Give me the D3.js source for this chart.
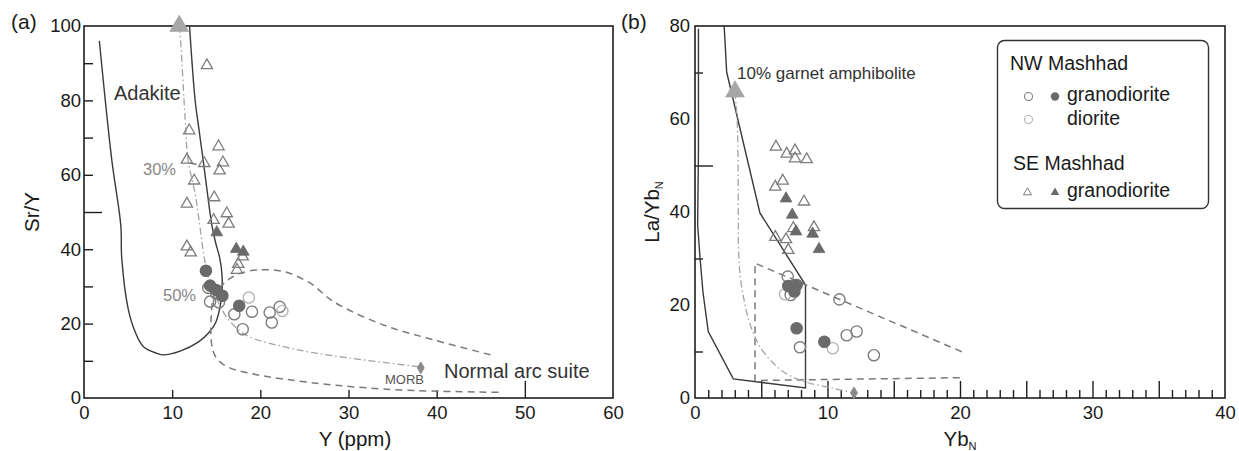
<!DOCTYPE html>
<html>
<head>
<meta charset="utf-8">
<script src="https://cdn.jsdelivr.net/npm/d3@7"></script>
<style>
  html, body { margin: 0; padding: 0; background: #fff; }
  svg { display: block; font-family: "Liberation Sans", Arial, sans-serif; }
</style>
</head>
<body>
<svg id="chart" width="1239" height="451"></svg>
<script>
// ---------- Panel (a): Sr/Y vs Y (ppm) ----------
const adakiteFieldA = [[1.74,96],[3.15,64],[4.17,46.5],[4.28,37.6],[5.0,24.1],[5.8,17.8],[6.74,13.8],[8.26,12.0],[9.0,11.6],[10.9,12.6],[13.0,15.1],[14.1,17.4],[14.9,20.1],[15.4,24.1],[15.65,28.6],[15.65,33.1],[15.4,37.6],[14.9,42.0],[14.5,46.5],[14.3,49.6],[13.56,63.1],[13.0,72.9],[12.6,80.1],[11.97,100]];
const arcFieldA = [[46.1,11.6],[39.7,15.6],[34.0,19.6],[28.3,25.9],[25.7,30.8],[22.65,34.0],[19.6,34.4],[17.7,33.5],[16.6,32.2],[15.45,29.8],[14.7,27.2],[14.43,21.9],[14.4,16.9],[14.6,12.9],[15.1,10.5],[16.25,8.4],[18.9,6.6],[22.65,5.1],[28.3,3.5],[35.9,2.15],[47.6,1.5]];
const meltCurveA = [[10.8,100],[10.9,98.0],[11.48,74.7],[11.8,64.0],[12.6,55.0],[13.0,48.7],[13.4,41.6],[13.75,36.2],[14.3,30.8],[15.0,26.9],[16.1,22.0],[17.7,18.0],[19.2,16.0],[22.65,13.8],[25.7,12.3],[30.2,10.7],[38.0,8.4]];
const meltMarksA = [[12.3,63.1,"30%"],[14.7,30.0,"50%"]];
const sourceA = [[10.8,100]];
const morbA = [[38.2,8.1]];
const seOpenA = [[13.94,89.4],[11.93,71.9],[15.26,67.6],[11.67,64.0],[13.64,63.1],[15.76,63.3],[15.38,61.1],[12.5,58.4],[14.77,53.9],[11.67,52.2],[16.2,49.6],[14.7,47.8],[16.4,46.8],[11.67,40.7],[12.1,39.1],[18.0,38.0],[17.5,36.0],[17.35,34.4]];
const seFillA = [[15.06,44.5],[17.27,40.05],[18.07,39.3]];
const nwGranoOpenA = [[14.1,29.6],[14.3,25.9],[15.3,25.7],[15.0,28.1],[17.05,22.5],[19.05,23.2],[21.06,23.0],[21.3,20.3],[22.2,24.5],[18.0,18.5]];
const nwGranoFillA = [[13.83,34.2],[14.3,30.2],[15.0,29.0],[15.7,27.5],[17.6,24.8]];
const nwDioriteA = [[18.7,27.0],[22.5,23.4]];

// ---------- Panel (b): La/YbN vs YbN ----------
const adakiteFieldB = [[0.26,79.4],[0.26,53.3],[0.2,37.2],[0.38,30.1],[0.6,22.8],[1.0,14.3],[2.89,4.1],[8.34,2.15],[8.34,24.3],[4.9,39.8],[2.39,70.1],[2.2,80]];
const arcFieldB = [[20.13,9.96],[4.53,29.0],[4.53,3.76],[20.13,4.37]];
const meltCurveB = [[3.02,65.8],[3.19,59.1],[3.27,39.4],[3.28,32.9],[3.4,26.5],[3.7,21.1],[4.02,17.1],[4.5,13.3],[5.15,9.96],[6.66,5.66],[8.3,3.5],[10.44,2.1],[12.0,1.1]];
const sourceB = [[3.02,65.9]];
const morbB = [[12.0,1.1]];
const seOpenB = [[6.11,54.0],[6.92,52.5],[7.55,53.2],[7.55,51.5],[8.43,51.3],[6.62,46.7],[6.06,45.4],[8.23,42.2],[7.42,36.5],[8.98,36.7],[6.06,34.6],[6.87,34.1],[7.04,31.8]];
const seFillB = [[6.87,42.9],[7.34,39.4],[7.62,35.8],[8.88,35.3],[9.36,32.0]];
const nwGranoOpenB = [[7.0,26.1],[7.22,22.15],[10.9,21.2],[7.92,10.9],[11.45,13.5],[12.2,14.3],[13.5,9.2]];
const nwGranoFillB = [[7.04,24.1],[7.67,24.3],[7.5,22.9],[7.67,15.0],[9.76,12.1]];
const nwDioriteB = [[6.8,22.3],[10.4,10.7]];

// ---------- tick values ----------
const xLabelsA = [0,10,20,30,40,50,60];
const yLabelsA = [0,20,40,60,80,100];
const xLabelsB = [0,10,20,30,40];
const yLabelsB = [0,20,40,60,80];

const legendGroups = ["NW Mashhad","SE Mashhad"];
const legendRows = ["granodiorite","diorite","granodiorite"];

// ---------- styles ----------
const C = {
  frame: "#1e1e1e",
  solid: "#3a3a3a",
  dashed: "#7a7a7a",
  dashdot: "#a3a3a3",
  openMark: "#7d7d7d",
  fillMark: "#6a6a6a",
  light: "#b5b5b5",
  source: "#a6a6a6",
  morb: "#8a8a8a",
  text: "#1a1a1a",
  grayText: "#888"
};
const TICK_FONT = 18.5;
const TITLE_FONT = 20.5;

const svg = d3.select("#chart");

function panel(cfg) {
  const x = d3.scaleLinear().domain(cfg.xd).range(cfg.xr);
  const y = d3.scaleLinear().domain(cfg.yd).range([398, 26]);
  const g = svg.append("g");

  // plot frame
  g.append("rect")
    .attr("x", cfg.xr[0]).attr("y", 26)
    .attr("width", cfg.xr[1] - cfg.xr[0]).attr("height", 372)
    .attr("fill", "none").attr("stroke", C.frame).attr("stroke-width", 1.6);

  // bottom axis: labels, then tick groups of different lengths pointing inward
  const xLab = g.append("g").attr("transform", `translate(0,398)`)
    .call(d3.axisBottom(x).tickValues(cfg.xLabels).tickSize(0).tickPadding(8).tickFormat(d3.format("d")));
  xLab.select(".domain").remove();
  xLab.selectAll("text").attr("font-size", TICK_FONT).attr("fill", C.text).attr("font-family", "Liberation Sans, Arial, sans-serif");
  cfg.xTicks.forEach(([vals, len]) => {
    const a = g.append("g").attr("transform", `translate(0,398)`)
      .call(d3.axisBottom(x).tickValues(vals).tickSize(-len).tickFormat(""));
    a.select(".domain").remove();
    a.selectAll("line").attr("stroke", C.frame).attr("stroke-width", 1.4);
  });

  const yLab = g.append("g").attr("transform", `translate(${cfg.xr[0]},0)`)
    .call(d3.axisLeft(y).tickValues(cfg.yLabels).tickSize(0).tickPadding(cfg.yPad).tickFormat(d3.format("d")));
  yLab.select(".domain").remove();
  yLab.selectAll("text").attr("font-size", TICK_FONT).attr("fill", C.text).attr("font-family", "Liberation Sans, Arial, sans-serif");
  cfg.yTicks.forEach(([vals, len]) => {
    const a = g.append("g").attr("transform", `translate(${cfg.xr[0]},0)`)
      .call(d3.axisLeft(y).tickValues(vals).tickSize(-len).tickFormat(""));
    a.select(".domain").remove();
    a.selectAll("line").attr("stroke", C.frame).attr("stroke-width", 1.4);
  });

  return { x, y, g };
}

function drawLine(p, pts, style, curve) {
  const line = d3.line().x(d => p.x(d[0])).y(d => p.y(d[1])).curve(curve);
  p.g.append("path").attr("d", line(pts)).attr("fill", "none")
    .attr("stroke", style.stroke).attr("stroke-width", style.width)
    .attr("stroke-dasharray", style.dash || null);
}

const tri = s => d3.symbol().type(d3.symbolTriangle).size(s)();
const dia = s => d3.symbol().type(d3.symbolDiamond).size(s)();

function triangles(p, pts, filled, size, color) {
  p.g.selectAll(null).data(pts).join("path")
    .attr("d", tri(size))
    .attr("transform", d => `translate(${p.x(d[0])},${p.y(d[1])})`)
    .attr("fill", filled ? color : "none")
    .attr("stroke", color).attr("stroke-width", filled ? 0.8 : 1.3);
}

function circles(p, pts, filled, color) {
  p.g.selectAll(null).data(pts).join("circle")
    .attr("cx", d => p.x(d[0])).attr("cy", d => p.y(d[1])).attr("r", 5.6)
    .attr("fill", filled ? color : "none")
    .attr("stroke", color).attr("stroke-width", 1.4);
}

function diamonds(p, pts) {
  p.g.selectAll(null).data(pts).join("path")
    .attr("d", dia(40))
    .attr("transform", d => `translate(${p.x(d[0])},${p.y(d[1])})`)
    .attr("fill", C.morb).attr("stroke", C.morb);
}

function txt(p, px, py, s, size, color, anchor) {
  return p.g.append("text").attr("x", px).attr("y", py).attr("font-size", size)
    .attr("fill", color).attr("text-anchor", anchor || "start").text(s);
}

// ===== Panel (a) =====
const range = (a, b, s) => d3.range(a, b + 1e-9, s);
const A = panel({
  xd: [0, 60], xr: [84, 613], yd: [0, 100], yPad: 3,
  xLabels: xLabelsA, yLabels: yLabelsA,
  xTicks: [[[10, 20, 30, 40], 8], [[50], 17]],
  yTicks: [[[10, 20, 30, 40, 60, 70, 80, 90], 9], [[50], 18]]
});

drawLine(A, adakiteFieldA, { stroke: C.solid, width: 1.4 }, d3.curveCatmullRom);
drawLine(A, arcFieldA, { stroke: C.dashed, width: 1.5, dash: "7,5" }, d3.curveCatmullRom);
drawLine(A, meltCurveA, { stroke: C.dashdot, width: 1.3, dash: "7,3,1.5,3" }, d3.curveCatmullRom);

// melting-degree markers on the dash-dot curve
A.g.selectAll(null).data(meltMarksA).join("line")
  .attr("x1", d => A.x(d[0]) - 3).attr("x2", d => A.x(d[0]) + 4)
  .attr("y1", d => A.y(d[1])).attr("y2", d => A.y(d[1]) + 1)
  .attr("stroke", "#333").attr("stroke-width", 1.2);

triangles(A, seOpenA, false, 55, C.openMark);
triangles(A, seFillA, true, 60, C.fillMark);
circles(A, nwGranoOpenA, false, C.openMark);
circles(A, nwDioriteA, false, C.light);
circles(A, nwGranoFillA, true, C.fillMark);
triangles(A, sourceA, true, 150, C.source);
diamonds(A, morbA);

txt(A, 11, 29, "(a)", 21, C.text);
txt(A, 114, 100, "Adakite", 20, "#333");
txt(A, 143, 175, meltMarksA[0][2], 16.5, C.grayText);
txt(A, 163, 301, meltMarksA[1][2], 16.5, C.grayText);
txt(A, 385, 384, "MORB", 13, "#555");
txt(A, 444, 378, "Normal arc suite", 20, "#333");
txt(A, 355, 446, "Y (ppm)", TITLE_FONT, C.text, "middle");
A.g.append("text").attr("transform", "translate(39,212) rotate(-90)")
  .attr("text-anchor", "middle").attr("font-size", TITLE_FONT).attr("fill", C.text).text("Sr/Y");

// ===== Panel (b) =====
const minorB = range(1, 39, 1).filter(v => v % 5 !== 0);
const B = panel({
  xd: [0, 40], xr: [695, 1225], yd: [0, 80], yPad: 5,
  xLabels: xLabelsB, yLabels: yLabelsB,
  xTicks: [[minorB, 8], [[5, 10, 15, 20, 25, 30, 35], 17]],
  yTicks: [[[10, 30, 70], 8], [[50], 18]]
});

drawLine(B, adakiteFieldB, { stroke: C.solid, width: 1.4 }, d3.curveLinear);
drawLine(B, arcFieldB, { stroke: C.dashed, width: 1.5, dash: "7,5" }, d3.curveLinear);
drawLine(B, meltCurveB, { stroke: C.dashdot, width: 1.3, dash: "7,3,1.5,3" }, d3.curveCatmullRom);

triangles(B, seOpenB, false, 55, C.openMark);
triangles(B, seFillB, true, 60, C.fillMark);
circles(B, nwGranoOpenB, false, C.openMark);
circles(B, nwDioriteB, false, C.light);
circles(B, nwGranoFillB, true, C.fillMark);
triangles(B, sourceB, true, 150, C.source);
diamonds(B, morbB);

txt(B, 621, 29, "(b)", 21, C.text);
txt(B, 737, 79, "10% garnet amphibolite", 17, "#333");

// x title with subscript
const xt = txt(B, 960, 446, "", TITLE_FONT, C.text, "middle");
xt.append("tspan").text("Yb");
xt.append("tspan").attr("font-size", 11).attr("dy", 4).text("N");

const yt = B.g.append("text").attr("transform", "translate(659,212) rotate(-90)")
  .attr("text-anchor", "middle").attr("font-size", TITLE_FONT).attr("fill", C.text);
yt.append("tspan").text("La/Yb");
yt.append("tspan").attr("font-size", 11).attr("dy", 4).text("N");

// ----- legend -----
const LF = 19.5;
const lg = B.g.append("g");
lg.append("rect").attr("x", 997.5).attr("y", 40.5).attr("width", 211).attr("height", 168)
  .attr("rx", 7).attr("fill", "#fff").attr("stroke", "#333").attr("stroke-width", 1.4);
lg.append("text").attr("x", 1010).attr("y", 70).attr("font-size", LF).attr("fill", C.text).text(legendGroups[0]);
lg.append("circle").attr("cx", 1028.5).attr("cy", 96.5).attr("r", 4).attr("fill", "none").attr("stroke", C.openMark).attr("stroke-width", 1.1);
lg.append("circle").attr("cx", 1055).attr("cy", 96.5).attr("r", 4.2).attr("fill", C.fillMark);
lg.append("text").attr("x", 1067).attr("y", 101).attr("font-size", LF).attr("fill", C.text).text(legendRows[0]);
lg.append("circle").attr("cx", 1028.5).attr("cy", 119.5).attr("r", 4).attr("fill", "none").attr("stroke", C.light).attr("stroke-width", 1.1);
lg.append("text").attr("x", 1067).attr("y", 125).attr("font-size", LF).attr("fill", C.text).text(legendRows[1]);
lg.append("text").attr("x", 1013).attr("y", 170).attr("font-size", LF).attr("fill", C.text).text(legendGroups[1]);
lg.append("path").attr("d", tri(28)).attr("transform", "translate(1027.5,192.5)")
  .attr("fill", "none").attr("stroke", C.openMark).attr("stroke-width", 1);
lg.append("path").attr("d", tri(32)).attr("transform", "translate(1055,192.5)").attr("fill", C.fillMark);
lg.append("text").attr("x", 1067).attr("y", 197).attr("font-size", LF).attr("fill", C.text).text(legendRows[2]);
</script>
</body>
</html>
